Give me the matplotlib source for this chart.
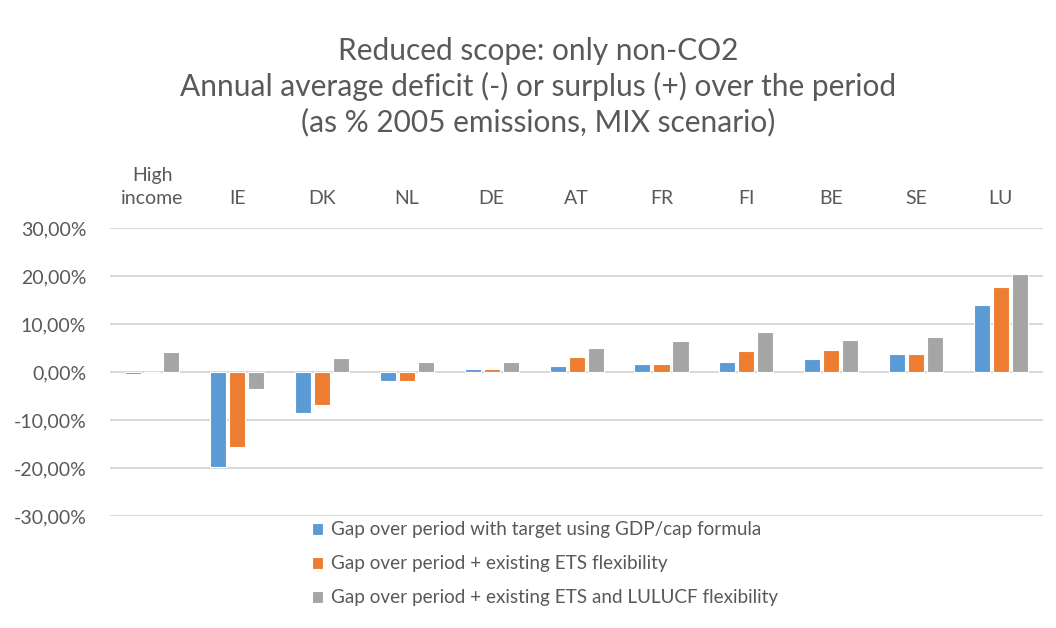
import matplotlib
matplotlib.use('Agg')
import matplotlib.pyplot as plt
import numpy as np

# values (% of 2005 emissions)
countries = ['High\nincome', 'IE', 'DK', 'NL', 'DE', 'AT', 'FR', 'FI', 'BE', 'SE', 'LU']
gap_gdp = [-0.4, -19.7, -8.6, -1.9, 0.6, 1.3, 1.6, 2.2, 2.8, 3.7, 13.9]
gap_ets = [0.0, -15.6, -6.8, -1.9, 0.6, 3.2, 1.6, 4.3, 4.6, 3.7, 17.8]
gap_ets_lulucf = [4.1, -3.5, 3.0, 2.2, 2.2, 5.1, 6.4, 8.3, 6.7, 7.4, 20.4]

series_names = ['Gap over period with target using GDP/cap formula',
                'Gap over period + existing ETS flexibility',
                'Gap over period + existing ETS and LULUCF flexibility']
colors = ['#5b9bd5', '#ed7d31', '#a5a5a5']
yticks = [-30, -20, -10, 0, 10, 20, 30]

txt = '#595959'
plt.rcParams['font.family'] = ['Lato', 'DejaVu Sans']

fig = plt.figure(figsize=(10.56, 6.28), dpi=100)
ax = fig.add_axes([0.104, 0.178, 0.884, 0.459])

x = np.arange(len(countries))
step = 0.224
width = 0.19
for i, (vals, name, c) in enumerate(zip([gap_gdp, gap_ets, gap_ets_lulucf], series_names, colors)):
    ax.bar(x + (i - 1) * step, vals, width, color=c, edgecolor='white', linewidth=0.8,
           label=name, zorder=3)

ax.set_xlim(-0.5, len(countries) - 0.5)
ax.set_ylim(-30, 30)
ax.set_yticks(yticks)
ax.set_yticklabels(['{:.2f}%'.format(v).replace('.', ',') for v in yticks])
ax.yaxis.grid(True, color='#d9d9d9', linewidth=1.5, zorder=0)
ax.tick_params(axis='y', length=0, labelsize=14, labelcolor=txt, pad=17)

ax.xaxis.tick_top()
ax.set_xticks(x)
ax.set_xticklabels(countries, fontsize=14, color=txt, linespacing=1.45)
ax.tick_params(axis='x', length=0, pad=15)

for s in ax.spines.values():
    s.set_visible(False)

fig.text(0.51, 0.862, 'Reduced scope: only non-CO2\nAnnual average deficit (-) or surplus (+) over the period\n(as % 2005 emissions, MIX scenario)',
         ha='center', va='center', fontsize=21.5, color=txt, linespacing=1.3)

leg = fig.legend(loc='upper left', bbox_to_anchor=(0.288, 0.182), frameon=False,
                 fontsize=13.6, labelcolor=txt, handlelength=0.6, handleheight=0.6,
                 handletextpad=0.4, labelspacing=0.9, borderaxespad=0)

plt.savefig('out.png', dpi=100)
